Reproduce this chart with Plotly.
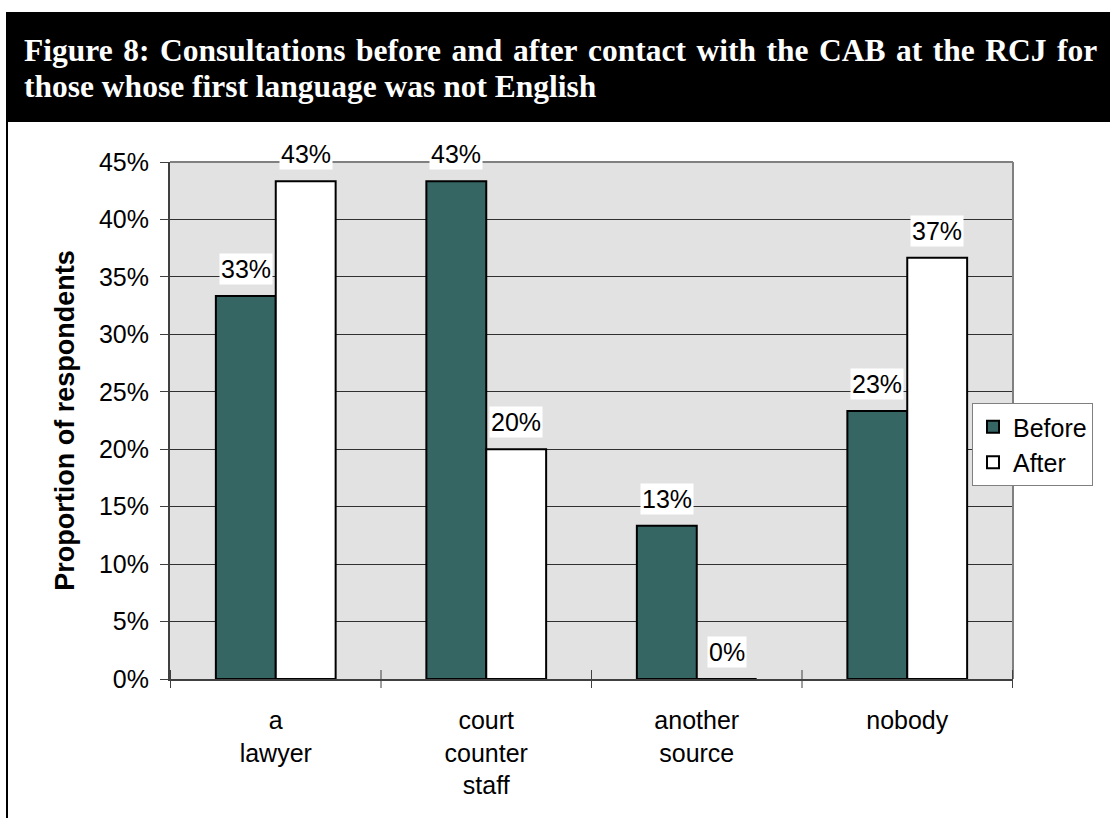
import plotly.graph_objects as go

# Survey results: share of respondents consulting each source
categories = ["a<br>lawyer", "court<br>counter<br>staff", "another<br>source", "nobody"]
before = [33.33, 43.33, 13.33, 23.33]
after = [43.33, 20.0, 0.0, 36.67]
series_names = ["Before", "After"]
tick_vals = [0, 5, 10, 15, 20, 25, 30, 35, 40, 45]
tick_text = [f"{v}%" for v in tick_vals]
title_lines = [
    "Figure 8: Consultations before and after contact with the CAB at the RCJ for",
    "those whose first language was not English",
]

W, H = 1112, 818
L, R, T, B = 170, 99, 162, 139
PW, PH = W - L - R, H - T - B


def px_x(x):
    return (x - L) / PW


def px_y(y):
    return 1 - (y - T) / PH


TEAL = "#356664"
FONT = "Liberation Sans, Arial, sans-serif"
SERIF = "Liberation Serif, Times New Roman, serif"

fig = go.Figure()
fig.add_bar(x=categories, y=before, name=series_names[0],
            marker=dict(color=TEAL, line=dict(color="black", width=2)))
fig.add_bar(x=categories, y=after, name=series_names[1],
            marker=dict(color="white", line=dict(color="black", width=2)))

# value labels on white boxes above each bar
for vals, shift in ((before, -30), (after, 30)):
    for cat, v in zip(categories, vals):
        fig.add_annotation(x=cat, y=v, text=f"{round(v)}%", showarrow=False,
                           xshift=shift, yshift=27, bgcolor="white",
                           borderpad=1, font=dict(family=FONT, size=25, color="black"))

shapes = []
# header band
shapes.append(dict(type="rect", xref="paper", yref="paper",
                   x0=px_x(6), x1=px_x(1110), y0=px_y(122), y1=px_y(12),
                   fillcolor="black", line=dict(width=0), layer="below"))
# left frame line
shapes.append(dict(type="line", xref="paper", yref="paper",
                   x0=px_x(7), x1=px_x(7), y0=px_y(122), y1=px_y(818),
                   line=dict(color="black", width=2)))
# gray top/right plot frame
shapes.append(dict(type="line", xref="paper", yref="paper", x0=0, x1=1, y0=1, y1=1,
                   line=dict(color="#808080", width=2)))
shapes.append(dict(type="line", xref="paper", yref="paper", x0=1, x1=1, y0=0, y1=1,
                   line=dict(color="#808080", width=2)))
# category boundary ticks crossing the x axis
for i in range(len(categories) + 1):
    xb = i - 0.5
    shapes.append(dict(type="line", xref="x", yref="paper", x0=xb, x1=xb,
                       y0=-9 / PH, y1=9 / PH, line=dict(color="#404040", width=1)))

fig.update_layout(shapes=shapes)

# header text; the first line gets slightly widened word gaps
x_left = 22
fig.add_annotation(xref="paper", yref="paper", x=px_x(x_left), y=px_y(50),
                   xanchor="left", yanchor="middle", showarrow=False,
                   text="<b>" + "\u200a ".join(title_lines[0].split(" ")) + "</b>",
                   font=dict(family=SERIF, size=31.5, color="white"))
fig.add_annotation(xref="paper", yref="paper", x=px_x(x_left), y=px_y(86),
                   xanchor="left", yanchor="middle", showarrow=False,
                   text=f"<b>{title_lines[1]}</b>",
                   font=dict(family=SERIF, size=31.5, color="white"))

fig.update_layout(
    width=W, height=H,
    margin=dict(l=L, r=R, t=T, b=B, autoexpand=False),
    paper_bgcolor="white", plot_bgcolor="#e2e2e2",
    barmode="group", bargap=0.431, bargroupgap=0,
    showlegend=True,
    legend=dict(x=px_x(972), y=px_y(403), xanchor="left", yanchor="top",
                bgcolor="white", bordercolor="#808080", borderwidth=1,
                font=dict(family=FONT, size=25, color="black"),
                itemwidth=30, tracegroupgap=0),
    font=dict(family=FONT, size=25, color="black"),
)

fig.update_xaxes(showgrid=False, showline=True, linecolor="#404040", linewidth=2,
                 ticks="", tickfont=dict(size=25), ticklabelstandoff=18)
fig.update_yaxes(range=[0, 45], tickvals=tick_vals, ticktext=tick_text,
                 showgrid=True, gridcolor="#303030", gridwidth=1,
                 showline=True, linecolor="#404040", linewidth=2,
                 ticks="outside", ticklen=8, tickcolor="#404040",
                 tickfont=dict(size=25), zeroline=False, ticklabelstandoff=6,
                 title=dict(text="<b>Proportion of respondents</b>", font=dict(size=27), standoff=17))

fig.write_html("out.html")
